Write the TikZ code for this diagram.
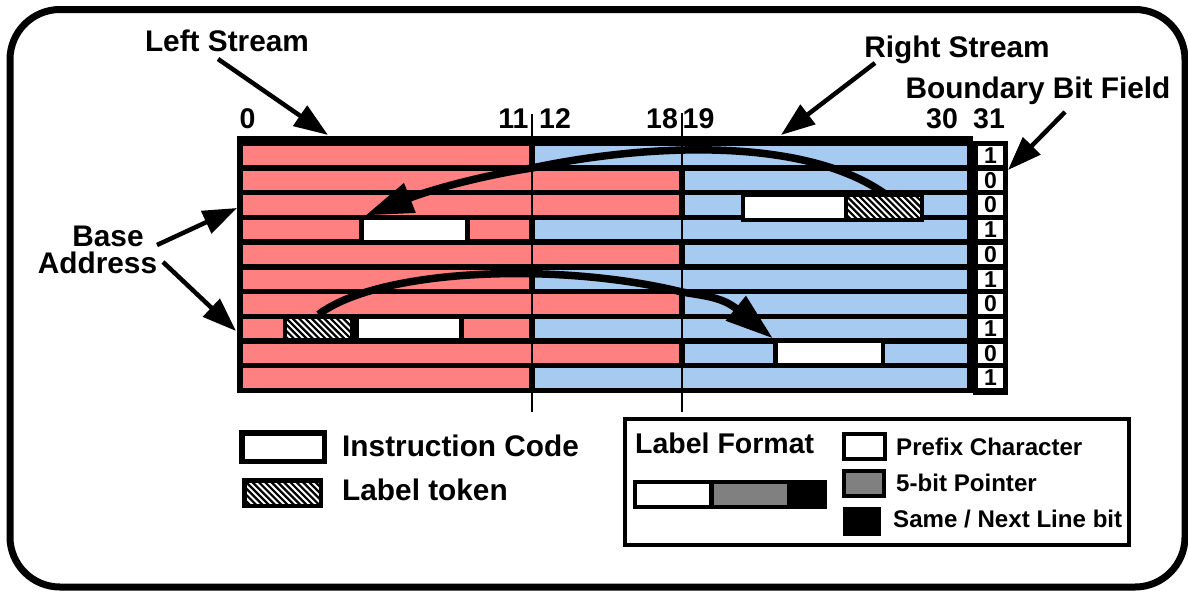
\documentclass[tikz,border=0pt]{standalone}
\usepackage{fontspec}
\setmainfont{Liberation Sans}
\usetikzlibrary{arrows.meta}
\definecolor{cellred}{RGB}{255,128,128}
\definecolor{cellblue}{RGB}{166,202,240}
\definecolor{ptrgray}{RGB}{128,128,128}
\newcommand{\fsz}[1]{\fontsize{#1}{#1}\selectfont\bfseries}
\begin{document}
\begin{tikzpicture}[x=1pt,y=-1pt,
  lbl/.style={inner sep=0pt, font=\fsz{29.8}},
  numlbl/.style={inner sep=0pt, font=\fsz{28.5}, anchor=base},
  smalllbl/.style={inner sep=0pt, font=\fsz{24.1}, anchor=base west},
  wbox/.style={rectangle, inner sep=0pt, draw=black, fill=white},
  hbox/.style={wbox, path picture={\foreach \k in {-10,...,16}{\draw[line width=2.2pt] ([xshift=\k*6.3pt]path picture bounding box.north west) -- ++(45,45);}}},
  ptrarrow/.style={line width=4.5pt, -{Triangle[length=34pt,width=24pt]}},
  curvearrow/.style={line width=7.5pt, -{Triangle[length=48pt,width=30pt]}},
  bitcell/.style={rectangle, inner sep=0pt, fill=white, minimum width=25pt, minimum height=19.3pt, font=\fsz{23}},
  divider/.style={line width=2pt},
]
\useasboundingbox (0,0) rectangle (1188,597);
% outer frame
\draw[line width=7pt, rounded corners=50pt] (10,9.5) rectangle (1185,587);

% register body
\fill[black] (237,136) rectangle (973,393);
\foreach \i/\s in {0/532,1/682,2/682,3/532,4/682,5/532,6/682,7/532,8/682,9/532}{
  \pgfmathsetmacro\t{146+24.7*\i}
  \fill[cellred] (243,\t) rectangle (\s-3,\t+19.3);
  \fill[cellblue] (\s+2.5,\t) rectangle (967,\t+19.3);
}
% boundary bit column
\fill[black] (973,141) rectangle (1008,395);
\foreach \i/\b in {0/1,1/0,2/0,3/1,4/0,5/1,6/0,7/1,8/0,9/1}{
  \node[bitcell] (bit\i) at (990.5,{146+24.7*\i+9.65}) {\b};
}

% instruction codes and label tokens
\node[wbox, line width=4pt, minimum width=102.5pt, minimum height=25pt] (ic2) at (794.25,207.5) {};
\node[hbox, line width=4pt, minimum width=76.5pt, minimum height=25pt] (tk1) at (883.75,207.5) {};
\node[wbox, line width=4.5pt, minimum width=106pt, minimum height=24.5pt] (ic1) at (414.5,230) {};
\node[hbox, line width=4.5pt, minimum width=67.5pt, minimum height=23.5pt] (tk2) at (318.5,328.5) {};
\node[wbox, line width=4.5pt, minimum width=104.5pt, minimum height=23.5pt] (ic3) at (409,328.5) {};
\node[wbox, line width=4.5pt, minimum width=107.5pt, minimum height=24.5pt] (ic4) at (829,353) {};

% stream dividers
\draw[divider] (532,114) -- (532,412);
\draw[divider] (682,113) -- (682,412);

% bit numbers
\node[numlbl] (n0) at (247.5,128) {0};
\node[numlbl] (n11) at (513.5,128) {11};
\node[numlbl] (n12) at (555,128) {12};
\node[numlbl] (n18) at (662,128) {18};
\node[numlbl] (n19) at (698.5,128) {19};
\node[numlbl] (n30) at (942,128) {30};
\node[numlbl] (n31) at (989,128) {31};

% labels
\node[lbl, anchor=base] (ls) at (227,51) {Left Stream};
\node[lbl, anchor=base] (rs) at (957,57) {Right Stream};
\node[lbl, anchor=base] (bbf) at (1038,98) {Boundary Bit Field};
\node[lbl, anchor=base] (basea) at (108,246.5) {Base};
\node[lbl, anchor=base] (baseb) at (97.5,273.5) {Address};

\coordinate (lsA) at (218,59);   \coordinate (lsB) at (328,135);
\coordinate (rsA) at (875,63);   \coordinate (rsB) at (781,135);
\coordinate (bbA) at (1065,112); \coordinate (bbB) at (1008,170);
\coordinate (baA) at (157,245);  \coordinate (baB) at (237,208);
\coordinate (adA) at (163,262);  \coordinate (adB) at (236,331);
\draw[ptrarrow] (lsA) -- (lsB);
\draw[ptrarrow] (rsA) -- (rsB);
\draw[ptrarrow] (bbA) -- (bbB);
\draw[ptrarrow] (baA) -- (baB);
\draw[ptrarrow] (adA) -- (adB);

% label pointers
\draw[curvearrow] (tk1.north) .. controls (800,135) and (640,145) .. (532,168)
  .. controls (480,176) and (430,190) .. ([xshift=6pt]ic1.north west);
\draw[curvearrow] (tk2.north) .. controls (380,268) and (560,262) .. (682,292)
  .. controls (705,296) and (722,297) .. (ic4.north west);

% left legend
\node[wbox, line width=5.5pt, minimum width=82.5pt, minimum height=28.5pt] (lgic) at (283,447) {};
\node[hbox, line width=4.5pt, minimum width=76.5pt, minimum height=25.5pt] (lgtk) at (282.5,493) {};
\node[lbl, anchor=base west] (lgict) at (342,456) {Instruction Code};
\node[lbl, anchor=base west] (lgtkt) at (342,500) {Label token};

% right legend
\node[draw, line width=4pt, inner sep=0pt, minimum width=503.5pt, minimum height=126pt] (lgbox) at (876.75,482) {};
\node[inner sep=0pt, font=\fsz{28.5}, anchor=base west] (lft) at (635,453) {Label Format};
\node[fill=black, inner sep=0pt, minimum width=194pt, minimum height=29pt] (lfbar) at (730,494.5) {};
\fill[white] (637,484) rectangle (709,505);
\fill[ptrgray] (714,484) rectangle (787,505);
\node[wbox, line width=4pt, minimum width=41pt, minimum height=25pt] (pcbox) at (864.5,446.5) {};
\node[wbox, fill=ptrgray, line width=4pt, minimum width=40pt, minimum height=25pt] (bpbox) at (864,483.5) {};
\node[fill=black, inner sep=0pt, minimum width=38pt, minimum height=29pt] (snbox) at (862,521.5) {};
\node[smalllbl] (pct) at (896,455) {Prefix Character};
\node[smalllbl] (bpt) at (896,491) {5-bit Pointer};
\node[smalllbl] (snt) at (893,527) {Same / Next Line bit};
\end{tikzpicture}
\end{document}
